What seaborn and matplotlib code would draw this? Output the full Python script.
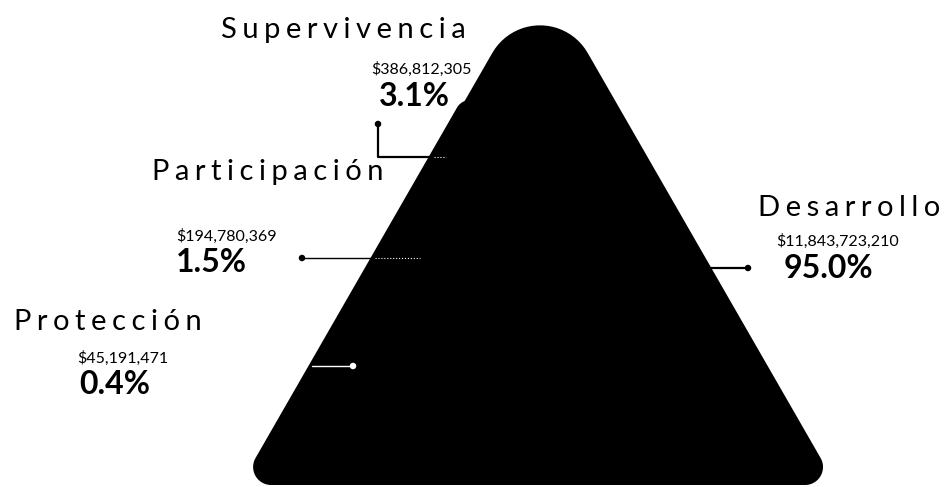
"""
pyramid_chart.py

Budget split by category drawn as a rounded pyramid with leader labels.
"""

import matplotlib
matplotlib.use("Agg")
import matplotlib.pyplot as plt
import numpy as np
import pandas as pd
import seaborn as sns

# data
categories = ["Supervivencia", "Participación", "Desarrollo", "Protección"]
amounts = [386812305, 194780369, 11843723210, 45191471]
shares = [3.1, 1.5, 95.0, 0.4]

# layout (pixel space, y grows downwards)
label_xy = [(343, 30), (268, 172), (849, 208), (108, 322)]
amount_xy = [(421, 69), (227, 236), (838, 241), (123, 358)]
share_xy = [(414, 96), (211, 263), (828, 269), (115, 384)]
dot_xy = [(378, 124), (302, 258), (748, 268), (353, 366)]


def rounded_polygon(pts, radii, n=24):
    pts = np.asarray(pts, dtype=float)
    out = []
    for i, r in enumerate(radii):
        p = pts[i]
        v1 = pts[i - 1] - p
        v2 = pts[(i + 1) % len(pts)] - p
        v1 /= np.linalg.norm(v1)
        v2 /= np.linalg.norm(v2)
        half = np.arccos(np.clip(v1 @ v2, -1, 1)) / 2
        d = r / np.tan(half)
        t1 = p + v1 * d
        t2 = p + v2 * d
        bis = (v1 + v2) / np.linalg.norm(v1 + v2)
        c = p + bis * r / np.sin(half)
        a1 = np.arctan2(*(t1 - c)[::-1])
        a2 = np.arctan2(*(t2 - c)[::-1])
        diff = (a2 - a1 + np.pi) % (2 * np.pi) - np.pi
        ang = a1 + diff * np.linspace(0, 1, n)
        out.append(np.column_stack([c[0] + r * np.cos(ang), c[1] + r * np.sin(ang)]))
    return np.vstack(out)


sns.set_theme(style="white")
plt.rcParams["font.family"] = ["Lato", "DejaVu Sans"]

fig = plt.figure(figsize=(9.45, 4.87), dpi=100)
ax = fig.add_axes([0, 0, 1, 1])

# pyramid body: main triangle plus the slightly offset layer behind it
slope = 0.575
base_y = 485
apex = (540, -30)
main = [apex, (apex[0] + slope * (base_y - apex[1]), base_y),
        (apex[0] - slope * (base_y - apex[1]), base_y)]
back_apex = (470, 85)
back = [back_apex, (back_apex[0] + slope * (base_y - back_apex[1]), base_y),
        (back_apex[0] - slope * (base_y - back_apex[1]), base_y)]
for tri, rad in [(back, [15, 18, 18]), (main, [55, 18, 18])]:
    poly = rounded_polygon(tri, rad)
    ax.fill(poly[:, 0], poly[:, 1], color="black", lw=0, zorder=1)

# leader lines
ax.plot([378, 378, 434], [124, 157, 157], color="black", lw=1.6, zorder=2)
ax.plot([434, 446], [157, 157], color="white", lw=0.8, ls=":", zorder=2)
ax.plot([302, 375], [258, 258], color="black", lw=1.0, zorder=2)
ax.plot([375, 420], [258, 258], color="white", lw=0.8, ls=":", zorder=2)
ax.plot([700, 748], [268, 268], color="black", lw=1.6, zorder=2)
ax.plot([312, 353], [366, 366], color="white", lw=1.0, zorder=2)

dots = pd.DataFrame({
    "x": [p[0] for p in dot_xy],
    "y": [p[1] for p in dot_xy],
    "cat": categories,
})
sns.scatterplot(data=dots[dots["cat"] != "Protección"], x="x", y="y", color="black",
                s=22, edgecolor="none", ax=ax, zorder=3, legend=False)
sns.scatterplot(data=dots[dots["cat"] == "Protección"], x="x", y="y", color="white",
                s=22, edgecolor="none", ax=ax, zorder=3, legend=False)
ax.set_xlim(0, 945)
ax.set_ylim(487, 0)
ax.axis("off")

for i, cat in enumerate(categories):
    ax.text(*label_xy[i], "\u2009\u200a".join(cat), ha="center", va="center",
            fontsize=21, fontweight="normal", color="black")
    ax.text(*amount_xy[i], f"${amounts[i]:,}", ha="center", va="center",
            fontsize=11.5, color="black")
    ax.text(*share_xy[i], f"{shares[i]:.1f}%", ha="center", va="center",
            fontsize=23, fontweight="bold", color="black")

fig.savefig("out.png", dpi=100)
